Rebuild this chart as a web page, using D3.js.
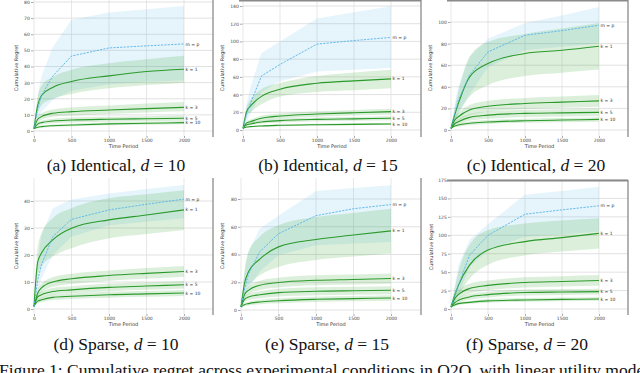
<!DOCTYPE html>
<html>
<head>
<meta charset="utf-8">
<script src="https://cdn.jsdelivr.net/npm/d3@7"></script>
<style>
  body { margin: 0; background: #fff; }
  svg { display: block; }
</style>
</head>
<body>
<svg id="fig" width="640" height="373"></svg>
<script>
// time periods shared by every series
const periods = [0, 50, 100, 250, 500, 1000, 1500, 2000];
const seriesLabels = ["m = p", "k = 1", "k = 3", "k = 5", "k = 10"];
const xTicks = [0, 500, 1000, 1500, 2000];

// (a) Identical, d = 10   rows: m = p, k = 1, k = 3, k = 5, k = 10
const aMid = [
  [2, 14, 22, 34, 46.5, 51.5, 52.8, 54],
  [1.5, 16, 22, 27, 30.7, 34.2, 36.9, 38.3],
  [1.5, 7.3, 8.9, 11, 12, 13, 13.9, 14.7],
  [1.5, 4.3, 5.2, 6.2, 6.8, 7.3, 7.6, 7.9],
  [1.5, 2.3, 2.7, 3.3, 3.7, 4.4, 4.8, 5.2]
];
const aLow = [
  [2, 8, 12, 19, 25, 29, 30.5, 31.5],
  [1.5, 11, 16, 20, 23, 26.5, 28.5, 30],
  [1.5, 5.5, 7, 8.8, 9.6, 10.5, 11.5, 12.2],
  [1.5, 3.3, 4, 4.8, 5.3, 5.8, 6, 6.3],
  [1.5, 1.6, 2, 2.5, 2.9, 3.5, 3.9, 4.2]
];
const aHigh = [
  [2, 22, 34, 52, 69, 73.5, 75.5, 77.5],
  [1.5, 21, 28, 33.5, 38, 42, 44.5, 46.6],
  [1.5, 9.3, 11, 13.4, 14.6, 15.8, 17, 18],
  [1.5, 5.3, 6.4, 7.6, 8.3, 8.9, 9.2, 9.6],
  [1.5, 3, 3.4, 4.1, 4.5, 5.3, 5.7, 6.2]
];
const aTicks = [0, 10, 20, 30, 40, 50, 60, 70, 80];

// (b) Identical, d = 15
const bMid = [
  [2, 18, 30, 61, 74, 97, 101, 104.5],
  [2, 21, 27, 38, 46, 52.8, 55.5, 57.7],
  [2, 8, 9.4, 13.2, 15.8, 18, 19.5, 20.8],
  [2, 5.8, 6.8, 9, 10.6, 12, 12.6, 13.2],
  [2, 3.3, 3.8, 4.6, 5.3, 6, 6.4, 6.8]
];
const bLow = [
  [2, 10, 18, 43, 55, 66, 68, 70],
  [2, 16, 20, 29, 37.7, 43, 45, 47],
  [2, 6, 7, 10.5, 12.8, 15, 16.3, 17.5],
  [2, 4.5, 5.3, 7.2, 8.6, 9.8, 10.4, 11],
  [2, 2.6, 3, 3.7, 4.3, 4.9, 5.3, 5.6]
];
const bHigh = [
  [2, 30, 48, 87, 100, 126, 133, 139.6],
  [2, 26, 34, 46, 53, 61, 65, 68],
  [2, 10, 11.8, 16, 18.8, 21, 22.7, 24],
  [2, 7, 8.3, 10.8, 12.6, 14.2, 14.8, 15.4],
  [2, 4, 4.6, 5.5, 6.3, 7.1, 7.5, 8]
];
const bTicks = [0, 20, 40, 60, 80, 100, 120, 140];

// (c) Identical, d = 20
const cMid = [
  [1.5, 15, 27.7, 50.8, 72.3, 87.7, 92, 97],
  [1.5, 14, 24.6, 49, 61.5, 70.8, 73.8, 77.5],
  [1.5, 9, 12.3, 18.5, 22, 24.6, 25.8, 27],
  [1.5, 5.8, 7.7, 11.7, 13.8, 15.4, 15.9, 16.3],
  [1.5, 3.6, 4.6, 6.2, 7.4, 8.6, 9.2, 9.8]
];
const cLow = [
  [1.5, 8, 16, 33, 58, 74, 77, 80],
  [1.5, 8, 15, 30.8, 41.5, 50, 53, 56],
  [1.5, 6, 8.5, 14, 17, 19.5, 20.5, 21.5],
  [1.5, 4, 5.3, 8.5, 10.5, 12, 12.5, 13],
  [1.5, 2.6, 3.3, 4.5, 5.6, 6.7, 7.2, 7.7]
];
const cHigh = [
  [1.5, 24, 40, 67.7, 84.6, 99, 106, 113.8],
  [1.5, 20, 36, 67.7, 81.5, 89, 94, 99],
  [1.5, 12, 16, 23, 27, 29.7, 31, 32.5],
  [1.5, 7.6, 10, 14.9, 17.1, 18.8, 19.3, 19.8],
  [1.5, 4.6, 5.9, 7.9, 9.2, 10.5, 11.2, 11.9]
];
const cTicks = [0, 20, 40, 60, 80, 100];

// (d) Sparse, d = 10
const dMid = [
  [1, 10.8, 16.4, 26.8, 33.2, 36.7, 38.8, 40.7],
  [1, 17.5, 20.7, 25.6, 29.9, 33, 34.8, 36.7],
  [1, 5.9, 7.8, 10, 11.2, 12.4, 13.2, 13.9],
  [1, 4.5, 5.3, 6.5, 7.1, 8, 8.5, 9],
  [1, 2.9, 3.4, 4.3, 4.7, 5.3, 5.6, 5.9]
];
const dLow = [
  [1, 6, 11.4, 20, 26.8, 31, 32.3, 33.6],
  [1, 13, 15.8, 19.4, 22.5, 26.2, 27.8, 29.3],
  [1, 4.5, 6.2, 8.2, 9.3, 10.5, 11.2, 11.9],
  [1, 3.4, 4.1, 5.2, 5.8, 6.6, 7.1, 7.6],
  [1, 2.1, 2.5, 3.3, 3.7, 4.2, 4.5, 4.8]
];
const dHigh = [
  [1, 18, 27.4, 37.3, 40.6, 42.8, 44.4, 45.9],
  [1, 23, 28, 33.6, 37.3, 41, 42.5, 44],
  [1, 7.3, 9.4, 11.8, 13.1, 14.3, 15.2, 15.9],
  [1, 5.6, 6.5, 7.8, 8.4, 9.4, 9.9, 10.4],
  [1, 3.7, 4.3, 5.3, 5.7, 6.4, 6.7, 7]
];
const dTicks = [0, 10, 20, 30, 40];

// (e) Sparse, d = 15
const eMid = [
  [2.2, 16, 26, 42, 55, 68, 73, 76],
  [2.2, 20, 27.5, 36.6, 45.5, 50.8, 54, 57],
  [2.2, 11.5, 14.2, 17.8, 19.8, 21.4, 22, 22.7],
  [2.2, 7.8, 9.4, 11, 12.5, 13.5, 13.9, 14.2],
  [2.2, 3.9, 4.6, 5.8, 6.7, 7.7, 8.2, 8.7]
];
const eLow = [
  [2.2, 9, 15, 28, 39.5, 46.7, 48, 49],
  [2.2, 14, 17.8, 25, 31, 36, 38.5, 40.7],
  [2.2, 9, 11.3, 14.5, 16.3, 17.8, 18.4, 19],
  [2.2, 5.8, 7, 8.4, 9.7, 10.6, 11, 11.3],
  [2.2, 2.7, 3.2, 4.2, 4.9, 5.8, 6.3, 6.7]
];
const eHigh = [
  [2.2, 28, 42, 58.8, 68, 85.8, 88, 90],
  [2.2, 30, 42, 52.8, 61, 67, 70, 73],
  [2.2, 14, 17.1, 21.1, 23.3, 25, 25.6, 26.3],
  [2.2, 9.8, 11.8, 13.6, 15.3, 16.4, 16.8, 17.1],
  [2.2, 5.1, 6, 7.4, 8.5, 9.6, 10.1, 10.7]
];
const eTicks = [0, 20, 40, 60, 80];

// (f) Sparse, d = 20
const fMid = [
  [2.7, 18.6, 32, 73, 100, 128.6, 134.5, 140],
  [2.7, 18.6, 32, 59.5, 80, 91.4, 96.8, 102.7],
  [2.7, 14, 19.5, 27.7, 32, 36, 37.3, 38.6],
  [2.7, 8.5, 11.8, 16.4, 19.5, 22.3, 23, 23.6],
  [2.7, 5.5, 7.3, 9, 11, 12.3, 13, 13.6]
];
const fLow = [
  [2.7, 10, 20, 57, 80, 98, 101, 105],
  [2.7, 10, 18.6, 41, 60, 73, 78, 82],
  [2.7, 10, 14, 21, 25.5, 29, 30.5, 31.5],
  [2.7, 6, 8.5, 12.5, 15.5, 18.3, 19, 19.6],
  [2.7, 4, 5.5, 7, 8.6, 9.8, 10.5, 11.1]
];
const fHigh = [
  [2.7, 30, 59.5, 93.6, 115, 155, 160, 166],
  [2.7, 28, 50, 87, 107, 116, 120, 123],
  [2.7, 18, 25, 34.4, 38.5, 43, 44.5, 46],
  [2.7, 11, 15, 20.3, 23.5, 26.3, 27, 27.6],
  [2.7, 7, 9.1, 11, 13.4, 14.8, 15.5, 16.1]
];
const fTicks = [0, 25, 50, 75, 100, 125, 150, 175];

const captions = [
  ["(a) Identical, ", "10"], ["(b) Identical, ", "15"], ["(c) Identical, ", "20"],
  ["(d) Sparse, ", "10"], ["(e) Sparse, ", "15"], ["(f) Sparse, ", "20"]
];

const blue = "#56b4e9", green = "#2b9a2b";
const serif = "Liberation Serif, Times New Roman, serif";
const svg = d3.select("#fig");

// panel geometry (pixels)
const panels = [
  {mid: aMid, low: aLow, high: aHigh, ticks: aTicks, x0: 34, x1: 184, y0: 131, yTop: 2, top: 0, bottom: 136, right: 213, titleX: 18, capX: 116, capY: 171, topBar: false},
  {mid: bMid, low: bLow, high: bHigh, ticks: bTicks, x0: 243, x1: 391, y0: 130, yTop: 6, top: 0, bottom: 136, right: 421, titleX: 224, capX: 328, capY: 171, topBar: true},
  {mid: cMid, low: cLow, high: cHigh, ticks: cTicks, x0: 451, x1: 599, y0: 130, yTop: 22, top: 0, bottom: 136, right: 628, titleX: 432, capX: 536, capY: 171, topBar: true},
  {mid: dMid, low: dLow, high: dHigh, ticks: dTicks, x0: 34, x1: 184, y0: 309, yTop: 201, top: 178, bottom: 314, right: 213, titleX: 18, capX: 116, capY: 350, topBar: false},
  {mid: eMid, low: eLow, high: eHigh, ticks: eTicks, x0: 241, x1: 391, y0: 310, yTop: 199, top: 178, bottom: 314, right: 421, titleX: 224, capX: 327, capY: 350, topBar: false},
  {mid: fMid, low: fLow, high: fHigh, ticks: fTicks, x0: 451, x1: 599, y0: 309, yTop: 180, top: 180, bottom: 314, right: 628, titleX: 433, capX: 527, capY: 350, topBar: true}
];

panels.forEach(function(p, pi) {
  var x = d3.scaleLinear().domain([0, 2000]).range([p.x0, p.x1]),
    y = d3.scaleLinear().domain([0, d3.max(p.ticks)]).range([p.y0, p.yTop]);

  var g = svg.append("g");

  // grid
  g.selectAll(".hgrid").data(p.ticks).enter().append("line")
    .attr("x1", p.x0).attr("x2", p.right)
    .attr("y1", function(d) { return y(d); }).attr("y2", function(d) { return y(d); })
    .attr("stroke", "#d4d4d4").attr("stroke-width", 0.7);
  g.selectAll(".vgrid").data(xTicks).enter().append("line")
    .attr("x1", function(d) { return x(d); }).attr("x2", function(d) { return x(d); })
    .attr("y1", p.top).attr("y2", p.bottom)
    .attr("stroke", "#dcdcdc").attr("stroke-width", 0.7);

  // axes
  var ya = g.append("g")
    .attr("transform", "translate(" + (p.x0 - 0.5) + ",0)")
    .call(d3.axisLeft(y).tickValues(p.ticks).tickSize(2.5).tickPadding(1.2).tickFormat(d3.format("d")));
  var xa = g.append("g")
    .attr("transform", "translate(0," + p.bottom + ")")
    .call(d3.axisBottom(x).tickValues(xTicks).tickSize(2).tickPadding(1).tickFormat(d3.format("d")));
  [ya, xa].forEach(function(a) {
    a.select(".domain").remove();
    a.attr("font-size", 4.5).attr("font-family", "DejaVu Sans, sans-serif");
    a.selectAll("line").attr("stroke", "#555").attr("stroke-width", 0.5);
    a.selectAll("text").attr("fill", "#444");
  });

  // axis titles
  g.append("text")
    .attr("x", (p.x0 + p.right) / 2).attr("y", p.bottom + 12)
    .attr("text-anchor", "middle")
    .attr("font-size", 5).attr("font-family", "DejaVu Sans, sans-serif").attr("fill", "#333")
    .text("Time Period");
  g.append("text")
    .attr("transform", "translate(" + p.titleX + "," + ((p.top + p.bottom) / 2) + ") rotate(-90)")
    .attr("text-anchor", "middle")
    .attr("font-size", 5).attr("font-family", "DejaVu Sans, sans-serif").attr("fill", "#333")
    .text("Cumulative Regret");

  // bands
  function bandData(s) { return periods.map(function(t, i) { return [t, p.low[s][i], p.high[s][i]]; }); }
  function lineData(s) { return periods.map(function(t, i) { return [t, p.mid[s][i]]; }); }

  var blueArea = d3.area()
    .x(function(d) { return x(d[0]); })
    .y0(function(d) { return y(d[1]); })
    .y1(function(d) { return y(d[2]); });
  var greenArea = d3.area()
    .curve(d3.curveMonotoneX)
    .x(function(d) { return x(d[0]); })
    .y0(function(d) { return y(d[1]); })
    .y1(function(d) { return y(d[2]); });

  g.append("path").attr("d", blueArea(bandData(0)))
    .attr("fill", blue).attr("fill-opacity", 0.15);
  [1, 2, 3, 4].forEach(function(s) {
    g.append("path").attr("d", greenArea(bandData(s)))
      .attr("fill", "#2ca02c").attr("fill-opacity", 0.17);
  });

  // lines
  var greenLine = d3.line().curve(d3.curveMonotoneX)
    .x(function(d) { return x(d[0]); }).y(function(d) { return y(d[1]); });
  var blueLine = d3.line()
    .x(function(d) { return x(d[0]); }).y(function(d) { return y(d[1]); });

  [1, 2, 3, 4].forEach(function(s) {
    g.append("path").attr("d", greenLine(lineData(s)))
      .attr("fill", "none").attr("stroke", green).attr("stroke-width", 1.1);
  });
  g.append("path").attr("d", blueLine(lineData(0)))
    .attr("fill", "none").attr("stroke", blue).attr("stroke-width", 0.9)
    .attr("stroke-dasharray", "2.2,1.2");

  // end labels
  seriesLabels.forEach(function(lab, s) {
    g.append("text")
      .attr("x", x(2000) + 1.5).attr("y", y(p.mid[s][periods.length - 1]))
      .attr("dy", "0.35em")
      .attr("font-size", 4.5).attr("font-family", "DejaVu Sans, sans-serif").attr("fill", "#333")
      .text(lab);
  });

  // frame
  g.append("line").attr("x1", p.right).attr("x2", p.right)
    .attr("y1", p.top).attr("y2", p.bottom + 1)
    .attr("stroke", "#8a8a8a").attr("stroke-width", 1.3);
  if (p.topBar) {
    g.append("line").attr("x1", p.x0 - 4).attr("x2", p.right)
      .attr("y1", p.top + 0.5).attr("y2", p.top + 0.5)
      .attr("stroke", "#8a8a8a").attr("stroke-width", 1.8);
  }

  // sub-caption
  var cap = svg.append("text")
    .attr("x", p.capX).attr("y", p.capY)
    .attr("text-anchor", "middle")
    .attr("font-size", 17.5).attr("font-family", serif).attr("fill", "#111");
  cap.append("tspan").text(captions[pi][0]);
  cap.append("tspan").attr("font-style", "italic").text("d");
  cap.append("tspan").text(" = " + captions[pi][1]);
});

// figure caption, its lower part cut by the bottom edge as in the source page
var figCap = svg.append("text")
  .attr("x", -1).attr("y", 376)
  .attr("font-size", 17.5).attr("font-family", serif).attr("fill", "#111");
figCap.append("tspan").text("Figure 1: Cumulative regret across experimental conditions in O2O");
figCap.append("tspan").attr("dx", 8).text("with linear utility model");
</script>
</body>
</html>
